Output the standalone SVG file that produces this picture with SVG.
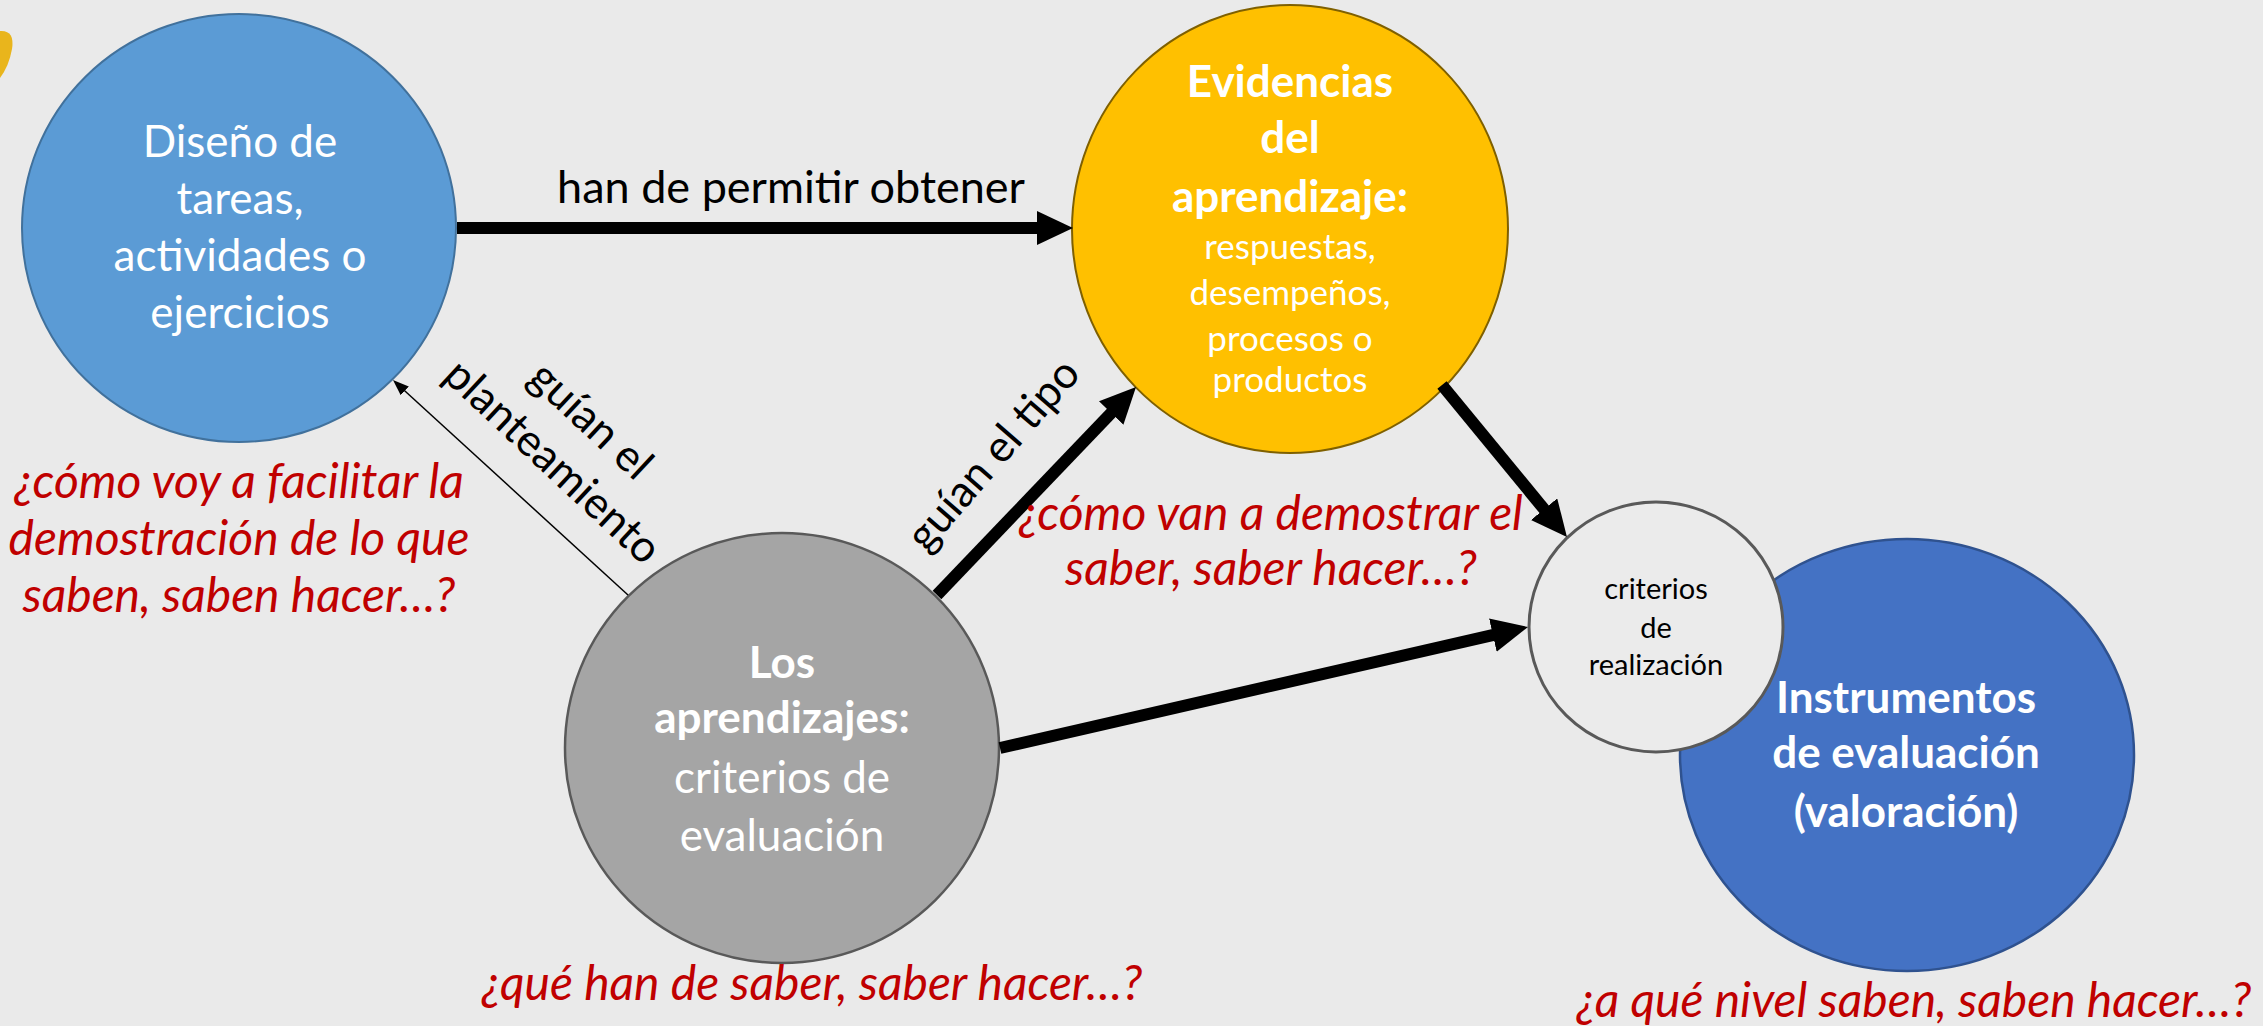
<svg xmlns="http://www.w3.org/2000/svg" width="2263" height="1026" viewBox="0 0 2263 1026">
<style>
text{font-family:Lato,"Open Sans","Liberation Sans",sans-serif;text-anchor:middle}
.w{fill:#ffffff;font-size:44px}
.wb{fill:#ffffff;font-size:44px;font-weight:bold}
.ws{fill:#ffffff;font-size:35px}
.lbl{fill:#000000;font-size:44px}
.q{fill:#C00000;font-size:48px;font-style:italic}
.sm{fill:#000000;font-size:29px}
.thick{stroke:#000;stroke-width:12;fill:none;marker-end:url(#ah)}
.thin{stroke:#000;stroke-width:1.5;fill:none;marker-end:url(#ahs)}
</style>
<defs>
<marker id="ah" markerUnits="userSpaceOnUse" markerWidth="40" markerHeight="36" refX="3" refY="17" orient="auto">
<path d="M0,0 L36,17 L0,34 Z" fill="#000"/>
</marker>
<marker id="ahs" markerUnits="userSpaceOnUse" markerWidth="18" markerHeight="14" refX="2" refY="6" orient="auto">
<path d="M0,0 L16,6 L0,12 Z" fill="#000"/>
</marker>
</defs>
<rect x="0" y="0" width="2263" height="1026" fill="#EAEAEA"/>
<path d="M0,31 Q15,30 12,49 Q9,66 0,78 Z" fill="#E9B51C"/>

<g id="node-diseno">
<ellipse cx="239" cy="228" rx="217" ry="214" fill="#5B9BD5" stroke="#41719C" stroke-width="2"/>
<text class="w" x="240" y="157">Diseño de</text>
<text class="w" x="240" y="214">tareas,</text>
<text class="w" x="240" y="271">actividades o</text>
<text class="w" x="240" y="328">ejercicios</text>
</g>

<g id="node-evidencias">
<ellipse cx="1290" cy="229" rx="218" ry="224" fill="#FFC000" stroke="#7F6000" stroke-width="2"/>
<text class="wb" x="1290" y="97">Evidencias</text>
<text class="wb" x="1290" y="153">del</text>
<text class="wb" x="1290" y="212">aprendizaje:</text>
<text class="ws" x="1290" y="259">respuestas,</text>
<text class="ws" x="1290" y="305">desempeños,</text>
<text class="ws" x="1290" y="351">procesos o</text>
<text class="ws" x="1290" y="392">productos</text>
</g>

<g id="node-aprendizajes">
<ellipse cx="782" cy="748" rx="217" ry="215" fill="#A5A5A5" stroke="#595959" stroke-width="2.5"/>
<text class="wb" x="782" y="678">Los</text>
<text class="wb" x="782" y="733">aprendizajes:</text>
<text class="w" x="782" y="793">criterios de</text>
<text class="w" x="782" y="851">evaluación</text>
</g>

<g id="node-instrumentos">
<ellipse cx="1907" cy="755" rx="227" ry="216" fill="#4472C4" stroke="#2F528F" stroke-width="2.5"/>
<text class="wb" x="1906" y="713">Instrumentos</text>
<text class="wb" x="1906" y="768">de evaluación</text>
<text class="wb" x="1906" y="827">(valoración)</text>
</g>

<g id="node-criterios">
<ellipse cx="1656" cy="627" rx="127" ry="125" fill="#EBEBEB" stroke="#595959" stroke-width="3"/>
<text class="sm" x="1656" y="599">criterios</text>
<text class="sm" x="1656" y="638">de</text>
<text class="sm" x="1656" y="675">realización</text>
</g>

<g id="connectors">
<line class="thick" x1="457" y1="228" x2="1040" y2="228"/>
<line class="thick" x1="937" y1="595" x2="1113.2" y2="410.8"/>
<line class="thick" x1="1442" y1="385" x2="1546" y2="511.5"/>
<line class="thick" x1="1000" y1="748" x2="1495.8" y2="634.4"/>
<line class="thin" x1="628" y1="595" x2="403.3" y2="389.5"/>
<text class="lbl" x="791" y="203" style="font-size:45px">han de permitir obtener</text>
<g transform="translate(570,443) rotate(43)">
<text class="lbl" x="0" y="-16">guían el</text>
<text class="lbl" x="0" y="40">planteamiento</text>
</g>
<g transform="translate(996,457) rotate(-49)">
<text class="lbl" x="0" y="11">guían el tipo</text>
</g>
</g>

<g id="questions">
<text class="q" x="239" y="498">¿cómo voy a facilitar la</text>
<text class="q" x="239" y="555">demostración de lo que</text>
<text class="q" x="239" y="612">saben, saben hacer…?</text>
<text class="q" x="1271" y="530">¿cómo van a demostrar el</text>
<text class="q" x="1271" y="585">saber, saber hacer…?</text>
<text class="q" x="812" y="1000">¿qué han de saber, saber hacer…?</text>
<text class="q" x="1914" y="1017">¿a qué nivel saben, saben hacer…?</text>
</g>
</svg>
